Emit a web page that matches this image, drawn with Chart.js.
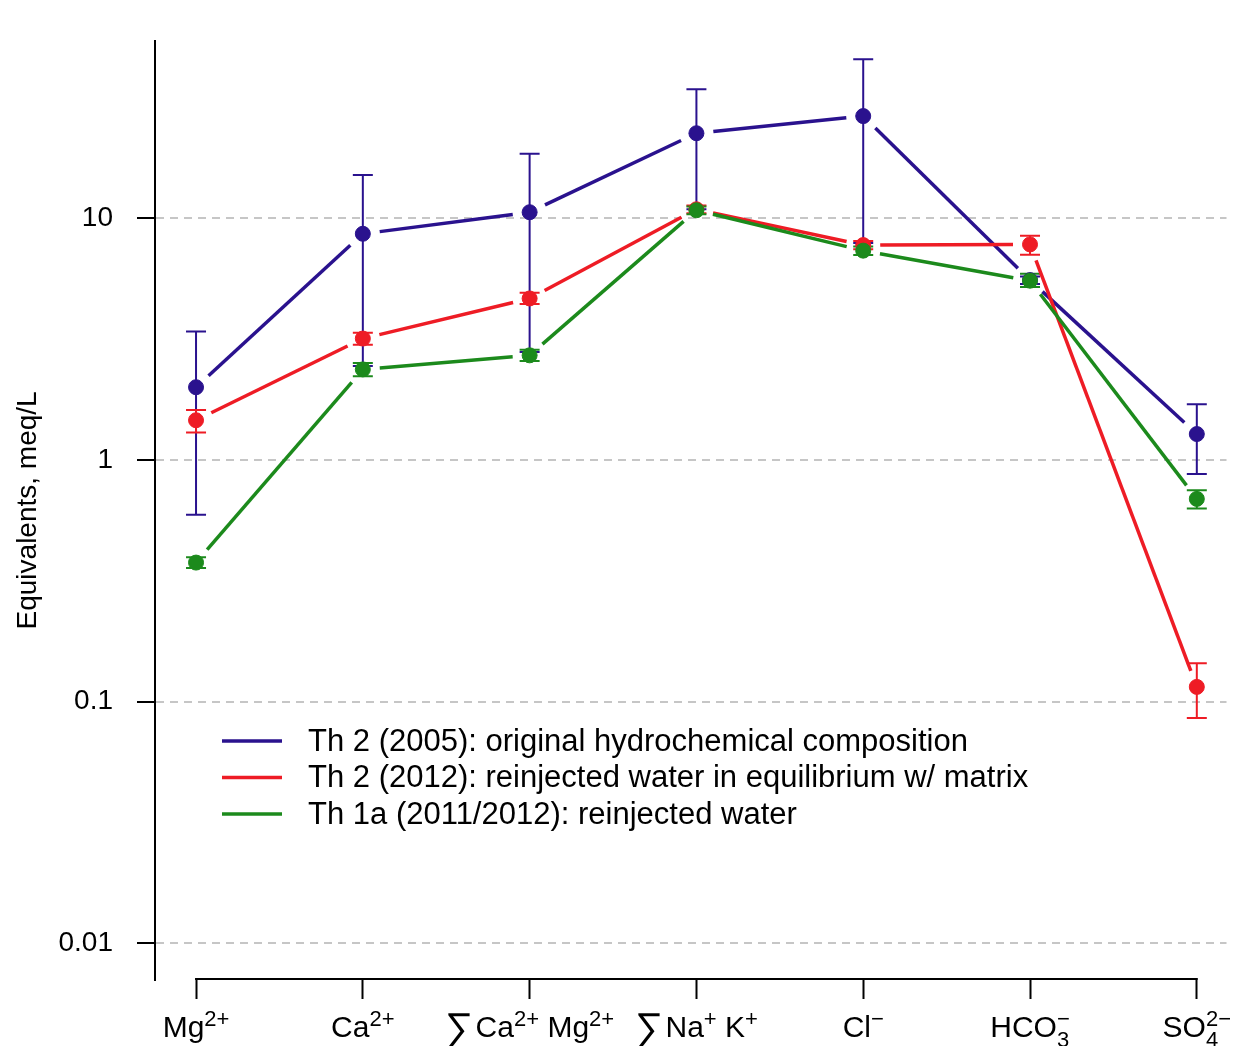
<!DOCTYPE html>
<html>
<head>
<meta charset="utf-8">
<script src="https://cdn.jsdelivr.net/npm/chart.js@4.4.0/dist/chart.umd.min.js"></script>
<style>
    html, body { margin: 0; padding: 0; background: #fff; }
</style>
</head>
<body>
<canvas id="ionChart" width="1235" height="1046"></canvas>
<script>

// categories use ^{} for superscript and _{} for subscript
const categories = ['Mg^{2+}', 'Ca^{2+}', '∑Ca^{2+} Mg^{2+}', '∑Na^{+} K^{+}', 'Cl^{−}', 'HCO_{3}^{−}', 'SO_{4}^{2−}'];

const yTickValues = [0.01, 0.1, 1, 10];
const yTickLabels = ['0.01', '0.1', '1', '10'];

const seriesNames = [
    'Th 2 (2005): original hydrochemical composition',
    'Th 2 (2012): reinjected water in equilibrium w/ matrix',
    'Th 1a (2011/2012): reinjected water'
];

// Th 2 (2005)
const th2005 = [2.0, 8.63, 10.6, 22.5, 26.5, 5.55, 1.28];
const th2005Lo = [0.593, 2.45, 2.8, 10.9, 7.9, 5.35, 0.875];
const th2005Hi = [3.40, 15.1, 18.5, 34.2, 45.5, 5.75, 1.70];

// Th 2 (2012)
const th2012 = [1.46, 3.18, 4.66, 10.9, 7.75, 7.8, 0.115];
const th2012Lo = [1.30, 3.0, 4.42, 10.5, 7.45, 7.07, 0.0855];
const th2012Hi = [1.61, 3.36, 4.92, 11.3, 8.05, 8.48, 0.144];

// Th 1a (2011/2012)
const th1a = [0.376, 2.37, 2.71, 10.8, 7.35, 5.52, 0.69];
const th1aLo = [0.357, 2.22, 2.57, 10.4, 7.05, 5.2, 0.63];
const th1aHi = [0.396, 2.52, 2.86, 11.2, 7.65, 5.9, 0.75];


const colors = {
    blue: '#2a128e',
    red: '#ee1c25',
    green: '#1c8a1c',
    grid: '#c6c6c6',
    axis: '#000000'
};

const FONT = "'Liberation Sans', Arial, Helvetica, sans-serif";

const series = [
    { name: seriesNames[0], values: th2005, lo: th2005Lo, hi: th2005Hi, color: colors.blue },
    { name: seriesNames[1], values: th2012, lo: th2012Lo, hi: th2012Hi, color: colors.red },
    { name: seriesNames[2], values: th1a, lo: th1aLo, hi: th1aHi, color: colors.green }
];


function parseLabel(str) {
    const parts = [];
    const re = /(\^\{[^}]*\}|_\{[^}]*\}|∑|[^\^_∑]+)/g;
    let m;
    while ((m = re.exec(str))) {
        const t = m[0];
        if (t.startsWith('^{')) parts.push({ text: t.slice(2, -1), kind: 'sup' });
        else if (t.startsWith('_{')) parts.push({ text: t.slice(2, -1), kind: 'sub' });
        else if (t === '∑') parts.push({ text: t, kind: 'sum' });
        else parts.push({ text: t, kind: 'base' });
    }
    return parts;
}

const labelFonts = {
    base: `30px ${FONT}`,
    sup: `22px ${FONT}`,
    sub: `22px ${FONT}`,
    sum: `40px ${FONT}`
};
const labelShift = { base: 0, sup: -11, sub: 10, sum: 4 };

function layoutLabel(ctx, parts) {
    const items = [];
    let x = 0;
    for (let i = 0; i < parts.length; i++) {
        const p = parts[i];
        ctx.font = labelFonts[p.kind];
        const w = ctx.measureText(p.text).width;
        const next = parts[i + 1];
        if (p.kind === 'sub' && next && next.kind === 'sup') {
            ctx.font = labelFonts.sup;
            const w2 = ctx.measureText(next.text).width;
            items.push({ ...p, x: x });
            items.push({ ...next, x: x });
            x += Math.max(w, w2);
            i++;
        } else {
            items.push({ ...p, x: x });
            x += w + (p.kind === 'sum' ? 2 : 0);
        }
    }
    return { items: items, width: x };
}


function gapLine(ctx, x1, y1, x2, y2, gap) {
    const dx = x2 - x1, dy = y2 - y1;
    const len = Math.hypot(dx, dy);
    if (len <= 2 * gap) return;
    const ux = dx / len, uy = dy / len;
    ctx.beginPath();
    ctx.moveTo(x1 + ux * gap, y1 + uy * gap);
    ctx.lineTo(x2 - ux * gap, y2 - uy * gap);
    ctx.stroke();
}


const decorPlugin = {
    id: 'decor',
    beforeDatasetsDraw(chart) {
        const ctx = chart.ctx;
        const xs = chart.scales.x;
        const ys = chart.scales.y;
        ctx.save();

        // error bars
        series.forEach(s => {
            ctx.strokeStyle = s.color;
            ctx.lineWidth = 2;
            s.lo.forEach((lo, i) => {
                const px = xs.getPixelForValue(i);
                const yLo = ys.getPixelForValue(lo);
                const yHi = ys.getPixelForValue(s.hi[i]);
                ctx.beginPath();
                ctx.moveTo(px, yLo);
                ctx.lineTo(px, yHi);
                ctx.moveTo(px - 10, yLo);
                ctx.lineTo(px + 10, yLo);
                ctx.moveTo(px - 10, yHi);
                ctx.lineTo(px + 10, yHi);
                ctx.stroke();
            });
        });

        // connecting lines, R type "b" (gap around each point)
        series.forEach(s => {
            ctx.strokeStyle = s.color;
            ctx.lineWidth = 3.5;
            ctx.lineCap = 'butt';
            for (let i = 0; i < s.values.length - 1; i++) {
                gapLine(ctx,
                    xs.getPixelForValue(i), ys.getPixelForValue(s.values[i]),
                    xs.getPixelForValue(i + 1), ys.getPixelForValue(s.values[i + 1]),
                    17);
            }
        });
        ctx.restore();
    },
    afterDraw(chart) {
        const ctx = chart.ctx;
        const xs = chart.scales.x;
        const area = chart.chartArea;
        ctx.save();

        // x axis line between first and last tick
        ctx.strokeStyle = colors.axis;
        ctx.lineWidth = 2;
        ctx.beginPath();
        ctx.moveTo(xs.getPixelForValue(0) - 1, area.bottom - 1);
        ctx.lineTo(xs.getPixelForValue(categories.length - 1) + 1, area.bottom - 1);
        ctx.stroke();

        // category labels with super/subscripts
        ctx.fillStyle = colors.axis;
        ctx.textBaseline = 'alphabetic';
        ctx.textAlign = 'left';
        const baseline = 1037;
        categories.forEach((c, i) => {
            const lay = layoutLabel(ctx, parseLabel(c));
            const x0 = xs.getPixelForValue(i) - lay.width / 2;
            lay.items.forEach(it => {
                ctx.font = labelFonts[it.kind];
                ctx.fillText(it.text, x0 + it.x, baseline + labelShift[it.kind]);
            });
        });

        // legend
        const legendY = [741, 777.5, 814];
        ctx.font = `31px ${FONT}`;
        ctx.textBaseline = 'middle';
        series.forEach((s, i) => {
            ctx.strokeStyle = s.color;
            ctx.lineWidth = 3.5;
            ctx.beginPath();
            ctx.moveTo(222, legendY[i]);
            ctx.lineTo(282, legendY[i]);
            ctx.stroke();
            ctx.fillStyle = colors.axis;
            ctx.fillText(s.name, 308, legendY[i] + 1);
        });
        ctx.restore();
    }
};


const ctx = document.getElementById('ionChart');

new Chart(ctx, {
    type: 'scatter',
    data: {
        datasets: series.map((s, k) => ({
            label: s.name,
            data: s.values.map((v, i) => ({ x: i, y: v })),
            showLine: false,
            backgroundColor: s.color,
            borderColor: s.color,
            pointBackgroundColor: s.color,
            pointBorderColor: s.color,
            pointBorderWidth: 1,
            pointRadius: 7.5,
            pointHoverRadius: 7.5,
            order: 3 - k
        }))
    },
    options: {
        responsive: false,
        animation: false,
        layout: { padding: { top: 38, left: 0, right: 0, bottom: 0 } },
        plugins: {
            legend: { display: false },
            tooltip: { enabled: false }
        },
        scales: {
            x: {
                type: 'linear',
                min: -0.246,
                max: 6.178,
                afterBuildTicks: scale => {
                    scale.ticks = categories.map((_, i) => ({ value: i }));
                },
                afterFit: scale => { scale.height = 66; },
                ticks: { display: false },
                grid: {
                    drawOnChartArea: false,
                    drawTicks: true,
                    tickLength: 19,
                    tickColor: colors.axis,
                    tickWidth: 2
                },
                border: { display: false }
            },
            y: {
                type: 'logarithmic',
                min: 0.00704,
                max: 54.3,
                afterBuildTicks: scale => {
                    scale.ticks = yTickValues.map(v => ({ value: v }));
                },
                afterFit: scale => { scale.width = 155; },
                ticks: {
                    padding: 24,
                    color: colors.axis,
                    font: { family: FONT, size: 28 },
                    callback: (val, idx) => yTickLabels[idx]
                },
                grid: {
                    color: colors.grid,
                    lineWidth: 2,
                    tickLength: 18,
                    tickColor: colors.axis,
                    tickWidth: 2
                },
                border: {
                    display: true,
                    color: colors.axis,
                    width: 2,
                    dash: [8, 6]
                },
                title: {
                    display: true,
                    text: 'Equivalents, meq/L',
                    color: colors.axis,
                    font: { family: FONT, size: 28 },
                    padding: { top: 11, bottom: 0 }
                }
            }
        }
    },
    plugins: [decorPlugin]
});
</script>
</body>
</html>
